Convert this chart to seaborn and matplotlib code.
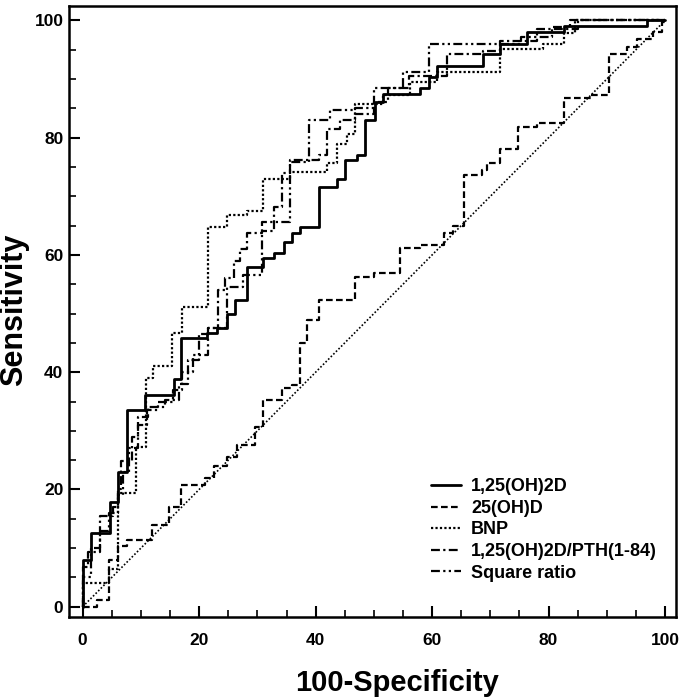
import matplotlib
matplotlib.use("Agg")
import matplotlib.pyplot as plt
from matplotlib.ticker import MultipleLocator
import seaborn as sns

# ROC points (100-specificity, sensitivity)
x_d125 = [0, 0, 1.5, 4.7, 6.1, 7.6, 10.7, 15.6, 16.8, 21.3, 23.0, 24.7, 26.2, 28.2, 31.0, 32.8, 34.5, 35.9,
          37.3, 40.5, 43.6, 45.1, 47.1, 48.5, 50.2, 51.6, 58.0, 59.4, 60.8, 68.8, 71.7, 76.3, 82.6, 96.9, 100]
y_d125 = [0, 8.0, 12.6, 17.9, 23.0, 33.6, 36.1, 38.8, 45.8, 46.7, 47.5, 50.0, 52.3, 58.0, 59.4, 60.3, 62.2, 63.7,
          64.7, 71.6, 73.0, 76.2, 77.0, 83.0, 86.1, 87.5, 88.4, 90.3, 92.3, 94.3, 96.0, 98.1, 99.1, 100, 100]

x_d25 = [0, 2.5, 4.6, 6.1, 7.6, 11.9, 14.8, 16.9, 21.0, 22.5, 24.7, 26.5, 29.6, 31.0, 34.2, 36.0, 37.3, 38.5,
         40.5, 46.8, 50.0, 54.5, 58.0, 62.0, 63.5, 65.4, 68.6, 69.5, 71.7, 74.8, 78.0, 82.6, 87.2, 90.3, 93.5,
         95.2, 98.0, 99.5, 100]
y_d25 = [0, 1.2, 8.0, 10.3, 11.4, 14.0, 17.0, 20.8, 22.0, 24.0, 25.6, 27.6, 30.7, 35.3, 37.3, 37.8, 44.9, 48.9,
         52.3, 56.3, 57.0, 61.1, 61.7, 63.7, 65.0, 73.6, 74.5, 75.6, 78.1, 81.8, 82.5, 86.7, 87.2, 94.3, 95.5,
         96.9, 98.0, 99.7, 100]

x_bnp = [0, 0, 4.6, 6.1, 9.2, 10.9, 12.1, 15.3, 17.0, 21.6, 24.7, 28.2, 31.0, 35.6, 41.9, 43.6, 45.4, 46.8,
         51.6, 56.2, 60.8, 71.7, 79.0, 82.6, 84.6, 100]
y_bnp = [0, 4.0, 6.5, 19.4, 27.3, 39.0, 41.0, 46.7, 51.2, 64.8, 66.8, 67.5, 73.0, 74.2, 75.6, 79.0, 80.7, 85.8,
         87.2, 89.5, 91.2, 95.2, 96.0, 97.8, 100, 100]

x_pth = [0, 0, 0.9, 2.9, 5.2, 6.1, 6.6, 8.5, 9.5, 11.2, 14.1, 16.5, 18.0, 20.0, 21.5, 23.3, 24.5, 26.0, 27.0,
         28.2, 30.8, 32.8, 34.2, 35.6, 40.5, 41.9, 44.2, 46.8, 50.0, 52.5, 56.0, 62.5, 68.8, 71.7, 78.0, 85.0, 100]
y_pth = [0, 6.8, 9.4, 15.4, 17.0, 20.0, 24.8, 29.0, 32.4, 34.1, 35.3, 38.0, 42.0, 46.5, 47.5, 54.0, 56.0, 59.0,
         61.0, 63.7, 64.0, 68.2, 73.9, 76.2, 77.0, 81.5, 83.0, 84.0, 86.0, 88.4, 90.5, 94.3, 94.8, 96.5, 98.5,
         100, 100]

x_sq = [0, 0, 1.5, 3.0, 4.6, 6.1, 7.0, 8.0, 9.5, 11.0, 13.0, 15.5, 17.0, 19.0, 21.6, 24.7, 27.6, 30.8, 35.6,
        38.9, 42.5, 46.8, 50.0, 55.0, 59.4, 75.2, 80.6, 83.7, 100]
y_sq = [0, 5.0, 10.0, 13.0, 16.0, 19.0, 23.0, 27.0, 31.0, 33.5, 35.0, 37.0, 40.0, 43.0, 47.5, 54.6, 56.6, 65.6,
        75.9, 83.0, 84.7, 85.0, 88.4, 91.2, 96.0, 97.1, 98.8, 100, 100]

diag = [0, 100]

sns.set_style("ticks")
plt.rcParams['font.family'] = ['Liberation Sans', 'DejaVu Sans']
plt.rcParams['font.weight'] = 'bold'
plt.rcParams['text.color'] = 'black'
plt.rcParams['axes.labelcolor'] = 'black'
plt.rcParams['xtick.color'] = 'black'
plt.rcParams['ytick.color'] = 'black'
plt.rcParams['axes.edgecolor'] = 'black'

fig = plt.figure(figsize=(6.83, 7), dpi=100)
ax = fig.add_axes([0.101, 0.119, 0.889, 0.872])

series = [
    ("1,25(OH)2D", x_d125, y_d125, "-", 2.0),
    ("25(OH)D", x_d25, y_d25, (0, (3, 1.5)), 1.6),
    ("BNP", x_bnp, y_bnp, (0, (1, 1)), 1.6),
    ("1,25(OH)2D/PTH(1-84)", x_pth, y_pth, (0, (4, 1.5, 1, 1.5)), 1.6),
    ("Square ratio", x_sq, y_sq, (0, (4, 1.5, 1, 1.5, 1, 1.5)), 1.6),
]
for name, xs, ys, ls, lw in series:
    sns.lineplot(x=xs, y=ys, ax=ax, estimator=None, sort=False, drawstyle="steps-post",
                 color="black", linestyle=ls, linewidth=lw, label=name)

sns.lineplot(x=diag, y=diag, ax=ax, estimator=None, color="black", linestyle=(0, (1, 1.2)),
             linewidth=1.2, legend=False)

ax.set_xlim(-2.35, 101.9)
ax.set_ylim(-1.7, 102.4)
ax.xaxis.set_major_locator(MultipleLocator(20))
ax.xaxis.set_minor_locator(MultipleLocator(5))
ax.yaxis.set_major_locator(MultipleLocator(20))
ax.yaxis.set_minor_locator(MultipleLocator(5))
ax.tick_params(which="major", direction="in", length=8, width=1.5, labelsize=12.5)
ax.tick_params(which="minor", direction="in", length=5, width=1.2)
ax.tick_params(axis="x", which="major", pad=12)
ax.tick_params(axis="y", which="major", pad=4)
for lab in ax.get_xticklabels() + ax.get_yticklabels():
    lab.set_fontweight("bold")
for s in ax.spines.values():
    s.set_linewidth(1.8)

ax.set_xlabel("100-Specificity", fontsize=21, fontweight="bold")
ax.set_ylabel("Sensitivity", fontsize=22, fontweight="bold")
ax.xaxis.set_label_coords(0.54, -0.086)
ax.yaxis.set_label_coords(-0.066, 0.502)

ax.legend(loc="lower right", bbox_to_anchor=(0.995, 0.031), frameon=False, handlelength=1.65,
          handletextpad=0.55, labelspacing=0.25, prop={"weight": "bold", "size": 13})

plt.savefig("out.png", dpi=100)
